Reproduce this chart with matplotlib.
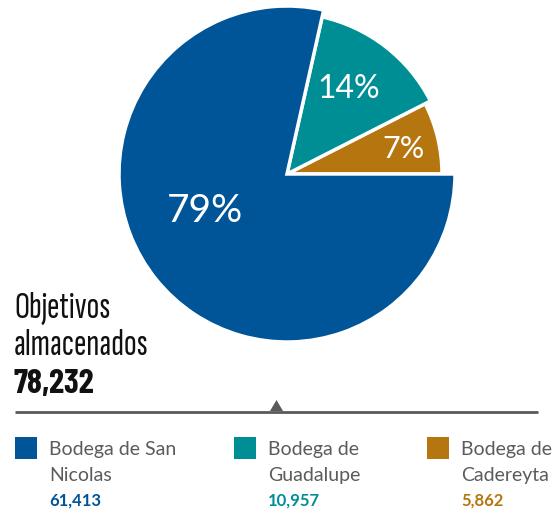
import numpy as np
import matplotlib.pyplot as plt

# Data
names = ['Bodega de San\nNicolas', 'Bodega de\nGuadalupe', 'Bodega de\nCadereyta']
values = [61413, 10957, 5862]
pct_labels = ['79%', '14%', '7%']
colors = ['#005598', '#008E95', '#B5750F']
radii = [168, 161, 155]
total_label = '78,232'

W, H = 558, 511
cond = ['Sofia Sans Extra Condensed', 'DejaVu Sans']
cond_bold = ['Barlow Condensed', 'Saira SemiCondensed', 'DejaVu Sans']

fig = plt.figure(figsize=(W / 100, H / 100), dpi=100)
ax = fig.add_axes([0, 0, 1, 1])

# pie goes counterclockwise from 3 o'clock: smallest slice first
wedges, _ = ax.pie(values[::-1], colors=colors[::-1], startangle=0, counterclock=True,
                   center=(287, H - 174), radius=168,
                   wedgeprops=dict(edgecolor='white', linewidth=2.5))
for w, r in zip(wedges, radii[::-1]):
    w.set_radius(r)

ax.set_xlim(0, W)
ax.set_ylim(0, H)
ax.set_aspect('equal')
ax.axis('off')

# percent labels inside slices
lab_pos = [(205, 211, 28), (349, 89, 23), (404, 149, 22)]
for txt, (x, y, fs) in zip(pct_labels, lab_pos):
    ax.text(x, H - y, txt, color='white', fontsize=fs, fontfamily='Lato',
            fontweight='normal', ha='center', va='center')

# title block
ax.text(14, H - 318, 'Objetivos', fontsize=27, fontfamily=cond,
        color='#111111', ha='left', va='baseline')
ax.text(14, H - 355, 'almacenados', fontsize=27, fontfamily=cond,
        color='#111111', ha='left', va='baseline')
ax.text(14, H - 393, total_label, fontsize=24.5, fontweight='bold',
        fontfamily=cond_bold, color='#111111', ha='left', va='baseline')

# divider with pointer
ax.plot([15, 538], [H - 411.5, H - 411.5], color='#5a5a5a', lw=2, solid_capstyle='butt')
ax.fill([270, 283, 276.5], [H - 411, H - 411, H - 400], color='#5a5a5a', lw=0)

# legend
leg_x = [15, 234, 427]
for x, name, val, c in zip(leg_x, names, values, colors):
    ax.add_patch(plt.Rectangle((x, H - 459), 22, 22, color=c, lw=0))
    ax.text(x + 34, H - 455, name.split('\n')[0], fontsize=14, fontfamily='Lato',
            color='#5b5b5d', ha='left', va='baseline')
    ax.text(x + 34, H - 481, name.split('\n')[1], fontsize=14, fontfamily='Lato',
            color='#5b5b5d', ha='left', va='baseline')
    ax.text(x + 34, H - 506, f'{val:,}', fontsize=12, fontfamily='Lato', fontweight='bold',
            color=c, ha='left', va='baseline')

fig.savefig('out.png', dpi=100)
